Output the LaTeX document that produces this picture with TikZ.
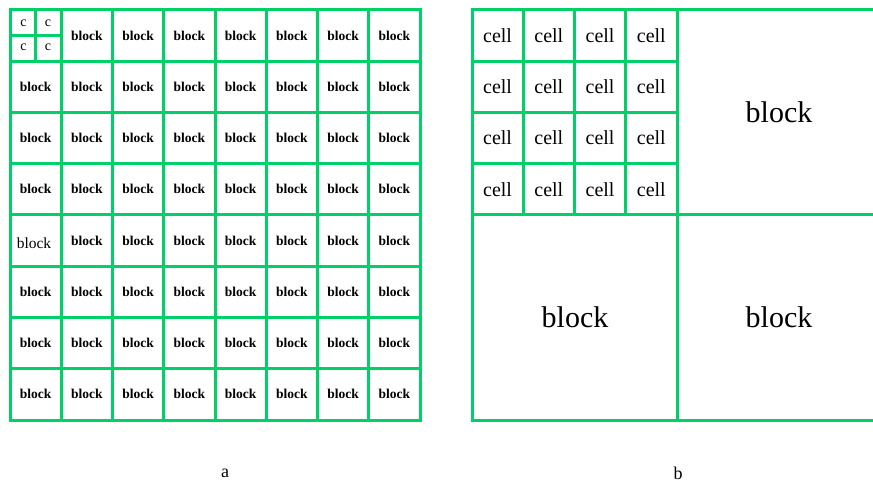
\documentclass[tikz,border=0pt]{standalone}
\usepackage{fontspec}
\setmainfont{Liberation Serif}
\definecolor{gridGreen}{RGB}{0,208,104}

\begin{document}
\begin{tikzpicture}[x=1pt, y=-1pt,
   grid/.style={draw=gridGreen, line width=3pt, line cap=rect},
   blk/.style={inner sep=0pt, font=\fontsize{13.5}{15}\selectfont\bfseries},
   thin/.style={inner sep=0pt, font=\fontsize{15.5}{17}\selectfont},
   cc/.style={inner sep=0pt, font=\fontsize{14}{16}\selectfont},
   cellbox/.style={inner sep=0pt, font=\fontsize{20}{22}\selectfont},
   big/.style={inner sep=0pt, font=\fontsize{30}{32}\selectfont},
   captxt/.style={inner sep=0pt, font=\fontsize{18}{20}\selectfont}]

  \useasboundingbox (0,0) rectangle (873,486);
  \clip (0,0) rectangle (873,486);

  % ===== a : 8 x 8 blocks =====
  \begin{scope}[shift={(10,10)}]
    \foreach \i in {0,...,8} {
      \draw[grid] (\i*51.25,0) -- (\i*51.25,410);
      \draw[grid] (0,\i*51.25) -- (410,\i*51.25);
    }
    % first block split into cells
    \draw[grid] (25.6,0) -- (25.6,51.25);
    \draw[grid] (0,25.6) -- (51.25,25.6);
    \node[cc] (c00) at (13.5,13) {c};
    \node[cc] (c01) at (38,13) {c};
    \node[cc] (c10) at (13.5,37.5) {c};
    \node[cc] (c11) at (38,37.5) {c};
    % left column
    \foreach \r in {1,2,3,5,6,7}
      \node[blk] (a-\r-0) at (25.6,\r*51.25+25.6) {block};
    \node[thin] (a-4-0) at (24,233) {block};
    % remaining columns
    \foreach \r in {0,...,7}
      \foreach \c in {1,...,7}
        \node[blk] (a-\r-\c) at (\c*51.25+25.6,\r*51.25+25.6) {block};
    \node[captxt] (capA) at (215,463) {a};
  \end{scope}

  % ===== b : cells and blocks =====
  \begin{scope}[shift={(472,10)}]
    \draw[grid] (0,0) rectangle (410,410);
    \draw[grid] (205,0) -- (205,410);
    \draw[grid] (0,205) -- (410,205);
    \foreach \i in {1,2,3} {
      \draw[grid] (\i*51.25,0) -- (\i*51.25,205);
      \draw[grid] (0,\i*51.25) -- (205,\i*51.25);
    }
    \foreach \r in {0,...,3}
      \foreach \c in {0,...,3}
        \node[cellbox] (b-\r-\c) at (\c*51.25+25.6,\r*51.25+25.6) {cell};
    \node[big] (blkNE) at (307,102) {block};
    \node[big] (blkSW) at (103,307) {block};
    \node[big] (blkSE) at (307,307) {block};
    \node[captxt] (capB) at (206,463) {b};
  \end{scope}

\end{tikzpicture}
\end{document}
